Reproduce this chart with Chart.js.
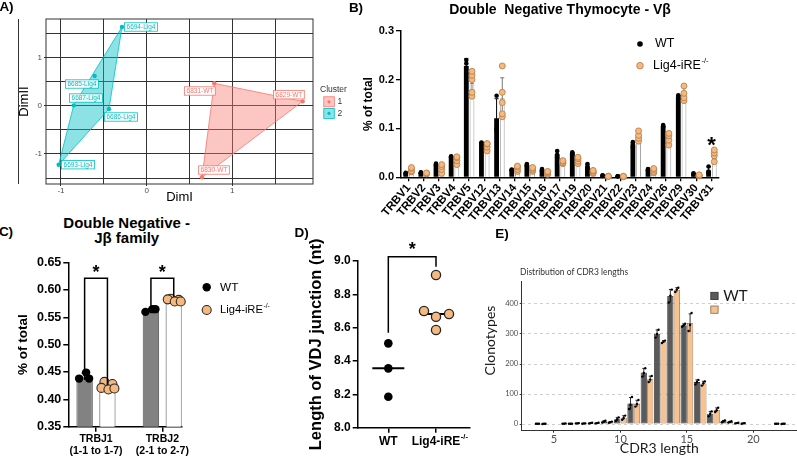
<!DOCTYPE html>
<html>
<head>
<meta charset="utf-8">
<title>TCR repertoire panels</title>
<script src="https://cdn.jsdelivr.net/npm/chart.js@4.4.1/dist/chart.umd.min.js"></script>
<style>
  body { margin: 0; background: #fff; }
  #fig { position: relative; width: 797px; height: 460px; overflow: hidden; font-family: "Liberation Sans", Arial, sans-serif; }
  #fig canvas { position: absolute; }
  .txt { position: absolute; white-space: pre; line-height: 1; transform: translate(-50%, -50%); color: #000; }
  .b { font-weight: bold; }
</style>
</head>
<body>
<div id="fig">
  <canvas id="chartA" width="350" height="205" style="left:0;top:0;width:350px;height:205px"></canvas>
  <canvas id="chartB" width="452" height="240" style="left:345px;top:0;width:452px;height:240px"></canvas>
  <canvas id="chartC" width="280" height="210" style="left:0;top:250px;width:280px;height:210px"></canvas>
  <canvas id="chartD" width="205" height="230" style="left:270px;top:230px;width:205px;height:230px"></canvas>
  <canvas id="chartE" width="357" height="220" style="left:440px;top:240px;width:357px;height:220px"></canvas>
  <div class="txt b" style="left:6.5px;top:6.7px;font-size:13.5px">A)</div>
  <div class="txt b" style="left:356px;top:8.3px;font-size:13.5px">B)</div>
  <div class="txt b" style="left:560px;top:9px;font-size:14px">Double  Negative Thymocyte - Vβ</div>
  <div class="txt b" style="left:6px;top:231.7px;font-size:13.5px">C)</div>
  <div class="txt b" style="left:126.7px;top:221.7px;font-size:15px">Double Negative -</div>
  <div class="txt b" style="left:126.7px;top:237.3px;font-size:15px">Jβ family</div>
  <div class="txt b" style="left:301.7px;top:233.3px;font-size:13.5px">D)</div>
  <div class="txt b" style="left:502px;top:234px;font-size:13.5px">E)</div>
  <div class="txt" style="left:520px;top:272px;font-size:8.5px;transform:translate(0,-50%);font-family:Lato,sans-serif;color:#333">Distribution of CDR3 lengths</div>
</div>
<script>
// ---- A) cluster plot
const aSamples = ['6694-Lig4', '6685-Lig4', '6687-Lig4', '6686-Lig4', '6693-Lig4', '6831-WT', '6829-WT', '6830-WT'];
const aDim1 = [-0.288, -0.607, -0.852, -0.440, -1.027, 0.789, 1.821, 0.646];
const aDim2 = [1.633, 0.616, 0.008, -0.068, -1.224, 0.465, 0.091, -1.485];
const aCluster = [2, 2, 2, 2, 2, 1, 1, 1];
const aClusters = [1, 2];
const aBreaks = [-1.5, -1, -0.5, 0, 0.5, 1, 1.5];

// ---- B) DN thymocyte V beta usage, replicates per gene
const bGenes = ['TRBV1', 'TRBV2', 'TRBV3', 'TRBV4', 'TRBV5', 'TRBV12', 'TRBV13', 'TRBV14', 'TRBV15', 'TRBV16', 'TRBV17',
  'TRBV19', 'TRBV20', 'TRBV21', 'TRBV22', 'TRBV23', 'TRBV24', 'TRBV26', 'TRBV29', 'TRBV30', 'TRBV31'];
const bWT = [
  [0.007, 0.008, 0.009], [0.008, 0.009, 0.010], [0.024, 0.026, 0.028], [0.041, 0.042, 0.043],
  [0.210, 0.233, 0.240], [0.068, 0.070, 0.071], [0.095, 0.100, 0.167], [0.014, 0.015, 0.016],
  [0.023, 0.025, 0.027], [0.013, 0.015, 0.017], [0.040, 0.046, 0.054], [0.047, 0.049, 0.051],
  [0.017, 0.022, 0.027], [0.003, 0.003, 0.004], [0.002, 0.002, 0.002], [0.062, 0.068, 0.072],
  [0.014, 0.016, 0.017], [0.103, 0.105, 0.107], [0.162, 0.165, 0.168], [0.006, 0.007, 0.008],
  [0.008, 0.012, 0.022]
];
const bLig = [
  [0.011, 0.013, 0.018, 0.020], [0.007, 0.008, 0.009], [0.008, 0.016, 0.022, 0.026], [0.026, 0.034, 0.040, 0.042],
  [0.166, 0.174, 0.200, 0.209, 0.217], [0.054, 0.062, 0.068, 0.069], [0.124, 0.130, 0.153, 0.174, 0.228],
  [0.012, 0.016, 0.021, 0.023], [0.012, 0.015, 0.018, 0.020], [0.006, 0.009, 0.011, 0.012],
  [0.028, 0.030, 0.033, 0.034], [0.028, 0.033, 0.038, 0.041], [0.008, 0.010, 0.013, 0.014],
  [0.002, 0.002, 0.002], [0.001, 0.002, 0.002], [0.074, 0.080, 0.086, 0.095], [0.009, 0.012, 0.016, 0.018],
  [0.066, 0.076, 0.085, 0.090], [0.157, 0.163, 0.172, 0.187], [0.003, 0.004, 0.005], [0.032, 0.044, 0.050, 0.056]
];
const bTicks = [0, 0.1, 0.2, 0.3];

// ---- C) J beta family
const cFamilies = [['TRBJ1', '(1-1 to 1-7)'], ['TRBJ2', '(2-1 to 2-7)']];
const cWT = [[0.438, 0.449, 0.438], [0.560, 0.565, 0.565]];
const cLig = [[0.432, 0.428, 0.421, 0.418, 0.420], [0.584, 0.582, 0.583, 0.579, 0.579]];
const cTicks = [0.35, 0.40, 0.45, 0.50, 0.55, 0.60, 0.65];

// ---- D) VDJ junction length
const dGroups = ['WT', 'Lig4-iRE'];
const dWT = [8.506, 8.356, 8.186];
const dLig = [8.916, 8.700, 8.666, 8.682, 8.586];
const dTicks = [8.0, 8.2, 8.4, 8.6, 8.8, 9.0];

// ---- E) CDR3 length distribution, replicates per length
const eLengths = [4, 6, 7, 8, 9, 10, 11, 12, 13, 14, 15, 16, 17, 18, 19, 22];
const eWT = [[1, 1, 1], [1, 1, 2], [2, 2, 3], [2, 3, 4], [5, 8, 11], [10, 16, 22], [50, 64, 90], [158, 170, 186],
  [288, 300, 314], [405, 428, 448], [324, 329, 334], [132, 140, 147], [26, 34, 42], [6, 9, 12], [2, 3, 4], [1, 1, 1]];
const eLig = [[0, 1, 1], [1, 1, 1], [1, 2, 2], [2, 3, 4], [4, 6, 8], [14, 20, 28], [58, 66, 80], [140, 148, 160],
  [270, 274, 278], [440, 448, 454], [310, 330, 370], [128, 136, 142], [40, 46, 54], [5, 7, 9], [1, 2, 3], [0, 1, 1]];
const eTicksX = [5, 10, 15, 20];
const eTicksY = [0, 100, 200, 300, 400];

const ARIAL = '"Liberation Sans", Arial, sans-serif';
const LATO = 'Lato, "Open Sans", sans-serif';
const ORANGE = '#f5b87e';

Chart.defaults.animation = false;
Chart.defaults.events = [];
Chart.defaults.font.family = ARIAL;
Chart.defaults.color = '#000';
Chart.defaults.plugins.legend.display = false;
Chart.defaults.plugins.tooltip.enabled = false;

const mean = a => a.reduce((s, v) => s + v, 0) / a.length;
const sd = a => {
  const m = mean(a);
  return a.length > 1 ? Math.sqrt(a.reduce((s, v) => s + (v - m) * (v - m), 0) / (a.length - 1)) : 0;
};
const median = a => { const s = a.slice().sort((p, q) => p - q); return s[Math.floor(s.length / 2)]; };

// fixed axis box so the plot area lands where it should
function fixAxis(px) {
  return s => {
    if (s.isHorizontal()) s.height = px; else s.width = px;
    s.paddingLeft = 0; s.paddingRight = 0; s.paddingTop = 0; s.paddingBottom = 0;
  };
}
function setTicks(vals) {
  return s => { s.ticks = vals.map(v => ({ value: v })); };
}

function dot(ctx, x, y, r, fill, edge, lw) {
  ctx.beginPath();
  ctx.arc(x, y, r, 0, Math.PI * 2);
  ctx.fillStyle = fill;
  ctx.fill();
  if (edge) { ctx.lineWidth = lw || 1; ctx.strokeStyle = edge; ctx.stroke(); }
}
function supText(ctx, x, y, base, sup, size, family) {
  ctx.font = size + 'px ' + (family || ARIAL);
  ctx.textAlign = 'left';
  ctx.textBaseline = 'middle';
  ctx.fillText(base, x, y);
  if (sup) {
    const w = ctx.measureText(base).width;
    ctx.font = (size * 0.6) + 'px ' + (family || ARIAL);
    ctx.fillText(sup, x + w + 0.5, y - size * 0.38);
  }
}
function star(ctx, x, y, size) {
  ctx.font = 'bold ' + size + 'px ' + ARIAL;
  ctx.textAlign = 'center';
  ctx.textBaseline = 'alphabetic';
  ctx.fillStyle = '#000';
  ctx.fillText('*', x, y + size * 0.56);
}

// replicate dots + mean±SD on each bar
function repsPlugin(sets) {
  return {
    id: 'reps',
    afterDatasetsDraw(chart) {
      const ctx = chart.ctx, y = chart.scales.y;
      ctx.save();
      sets.forEach(s => {
        chart.getDatasetMeta(s.ds).data.forEach((bar, i) => {
          const vals = s.reps[i];
          if (!vals || !vals.length) return;
          const m = mean(vals), d = sd(vals);
          if (d > 0) {
            const yt = y.getPixelForValue(m + d), yb = y.getPixelForValue(m - d);
            ctx.strokeStyle = s.err; ctx.lineWidth = s.errW;
            ctx.beginPath();
            ctx.moveTo(bar.x, yt); ctx.lineTo(bar.x, yb);
            ctx.moveTo(bar.x - s.cap, yt); ctx.lineTo(bar.x + s.cap, yt);
            ctx.stroke();
          }
          vals.forEach((v, k) => {
            dot(ctx, bar.x + s.jit[k % s.jit.length], y.getPixelForValue(v), s.r, s.fill, s.edge, s.lw);
          });
        });
      });
      ctx.restore();
    }
  };
}

function keyPlugin(items) {
  return {
    id: 'keys',
    afterDraw(chart) {
      const ctx = chart.ctx;
      ctx.save();
      items.forEach(it => {
        dot(ctx, it.x, it.y, it.r, it.fill, it.edge, it.lw);
        ctx.fillStyle = '#000';
        supText(ctx, it.tx, it.y, it.text, it.sup, it.size);
      });
      ctx.restore();
    }
  };
}

function bracketPlugin(list, xOf) {
  return {
    id: 'brackets',
    afterDatasetsDraw(chart) {
      const ctx = chart.ctx, y = chart.scales.y;
      ctx.save();
      ctx.strokeStyle = '#000';
      ctx.lineWidth = 1.5;
      list.forEach(b => {
        const [x0, x1] = xOf(chart, b);
        const yt = y.getPixelForValue(b.top);
        ctx.beginPath();
        ctx.moveTo(x0, y.getPixelForValue(b.left));
        ctx.lineTo(x0, yt);
        ctx.lineTo(x1, yt);
        ctx.lineTo(x1, y.getPixelForValue(b.right));
        ctx.stroke();
        star(ctx, (x0 + x1) / 2, y.getPixelForValue(b.star), b.size);
      });
      ctx.restore();
    }
  };
}

// ================= A =================
const aColors = { 1: '#F8766D', 2: '#00BFC4' };
const aFills = { 1: 'rgba(248,118,109,0.42)', 2: 'rgba(0,191,196,0.45)' };
const aLabelOffsets = [[19, 0], [-12.7, 8], [12.3, -7.3], [12, 8], [19.3, 0], [-14.3, 7.7], [-13.7, -6.6], [12, -7.3]];

function convexHull(pts) {
  const p = pts.slice().sort((a, b) => a[0] - b[0] || a[1] - b[1]);
  const cross = (o, a, b) => (a[0] - o[0]) * (b[1] - o[1]) - (a[1] - o[1]) * (b[0] - o[0]);
  const lower = [], upper = [];
  p.forEach(q => {
    while (lower.length >= 2 && cross(lower[lower.length - 2], lower[lower.length - 1], q) <= 0) lower.pop();
    lower.push(q);
  });
  p.slice().reverse().forEach(q => {
    while (upper.length >= 2 && cross(upper[upper.length - 2], upper[upper.length - 1], q) <= 0) upper.pop();
    upper.push(q);
  });
  return lower.slice(0, -1).concat(upper.slice(0, -1));
}

const aHulls = {
  id: 'hulls',
  beforeDatasetsDraw(chart) {
    const { ctx, scales: { x, y } } = chart;
    ctx.save();
    aClusters.forEach(c => {
      const pts = [];
      aCluster.forEach((k, i) => { if (k === c) pts.push([x.getPixelForValue(aDim1[i]), y.getPixelForValue(aDim2[i])]); });
      const h = convexHull(pts);
      ctx.beginPath();
      h.forEach((p, i) => (i ? ctx.lineTo(p[0], p[1]) : ctx.moveTo(p[0], p[1])));
      ctx.closePath();
      ctx.fillStyle = aFills[c];
      ctx.fill();
      ctx.strokeStyle = aColors[c];
      ctx.lineWidth = 0.8;
      ctx.stroke();
    });
    ctx.restore();
  },
  afterDatasetsDraw(chart) {
    const { ctx, chartArea: ca, scales: { x, y } } = chart;
    ctx.save();
    ctx.strokeStyle = '#333';
    ctx.lineWidth = 1;
    ctx.strokeRect(ca.left, ca.top, ca.right - ca.left, ca.bottom - ca.top);
    ctx.font = '6.5px ' + ARIAL;
    ctx.textAlign = 'center';
    ctx.textBaseline = 'middle';
    aSamples.forEach((s, i) => {
      const cx = x.getPixelForValue(aDim1[i]) + aLabelOffsets[i][0];
      const cy = y.getPixelForValue(aDim2[i]) + aLabelOffsets[i][1];
      const w = ctx.measureText(s).width + 4, h = 8.4;
      ctx.fillStyle = 'rgba(255,255,255,0.85)';
      ctx.fillRect(cx - w / 2, cy - h / 2, w, h);
      ctx.strokeStyle = aColors[aCluster[i]];
      ctx.lineWidth = 0.8;
      ctx.strokeRect(cx - w / 2, cy - h / 2, w, h);
      ctx.fillStyle = aColors[aCluster[i]];
      ctx.fillText(s, cx, cy + 0.3);
    });
    ctx.restore();
  },
  afterDraw(chart) {
    const ctx = chart.ctx;
    ctx.save();
    ctx.fillStyle = '#333';
    ctx.font = '8.5px ' + ARIAL;
    ctx.textAlign = 'left';
    ctx.textBaseline = 'middle';
    ctx.fillText('Cluster', 320, 90);
    aClusters.forEach((c, k) => {
      const y0 = 96.8 + k * 11.6;
      ctx.fillStyle = aFills[c];
      ctx.fillRect(323.8, y0, 10.5, 10);
      ctx.strokeStyle = aColors[c];
      ctx.lineWidth = 0.8;
      ctx.strokeRect(323.8, y0, 10.5, 10);
      dot(ctx, 329, y0 + 5, 1.6, aColors[c]);
      ctx.fillStyle = '#333';
      ctx.font = '8.5px ' + ARIAL;
      ctx.fillText(String(c), 337.5, y0 + 5.3);
    });
    ctx.restore();
  }
};

new Chart(document.getElementById('chartA'), {
  type: 'scatter',
  data: {
    datasets: aClusters.map(c => ({
      label: 'Cluster ' + c,
      data: aSamples.map((s, i) => ({ x: aDim1[i], y: aDim2[i], c: aCluster[i] })).filter(p => p.c === c),
      pointRadius: 2.2,
      pointBackgroundColor: aColors[c],
      pointBorderWidth: 0
    }))
  },
  options: {
    responsive: false,
    layout: { autoPadding: false, padding: { left: 17, top: 19, right: 37, bottom: 0 } },
    scales: {
      x: {
        type: 'linear', min: -1.175, max: 1.942,
        afterBuildTicks: setTicks(aBreaks), afterFit: fixAxis(21),
        grid: { color: '#333', lineWidth: 1, tickLength: 2,
          tickColor: c => Number.isInteger(c.tick.value) ? '#333' : 'rgba(0,0,0,0)' },
        border: { display: false },
        ticks: { padding: 0, font: { size: 8 }, color: '#4d4d4d', callback: v => Number.isInteger(v) ? String(v) : '' },
        title: { display: true, text: 'DimI', padding: 0, font: { size: 13 }, color: '#000' }
      },
      y: {
        min: -1.624, max: 1.799,
        afterBuildTicks: setTicks(aBreaks), afterFit: fixAxis(29),
        grid: { color: '#333', lineWidth: 1, tickLength: 2,
          tickColor: c => Number.isInteger(c.tick.value) ? '#333' : 'rgba(0,0,0,0)' },
        border: { display: false },
        ticks: { padding: 2, font: { size: 8 }, color: '#4d4d4d', callback: v => Number.isInteger(v) ? String(v) : '' },
        title: { display: true, text: 'DimII', padding: 0, font: { size: 13 }, color: '#000' }
      }
    }
  },
  plugins: [aHulls]
});

// ================= B =================
new Chart(document.getElementById('chartB'), {
  type: 'bar',
  data: {
    labels: bGenes,
    datasets: [
      { label: 'WT', data: bWT.map(mean), backgroundColor: '#000', borderWidth: 0,
        categoryPercentage: 0.75, barPercentage: 0.85 },
      { label: 'Lig4-iRE-/-', data: bLig.map(mean), backgroundColor: '#fff', borderColor: '#a0a0a0', borderWidth: 1,
        categoryPercentage: 0.75, barPercentage: 0.85 }
    ]
  },
  options: {
    responsive: false,
    layout: { autoPadding: false, padding: { left: 16, top: 30.8, right: 78, bottom: 0 } },
    scales: {
      x: {
        afterFit: fixAxis(62.7),
        grid: { offset: false, drawOnChartArea: false, color: '#000', lineWidth: 1.3, tickLength: 4 },
        border: { color: '#000', width: 1.5 },
        ticks: { autoSkip: false, minRotation: 50, maxRotation: 50, padding: 0, font: { size: 11.5, weight: 'bold' } }
      },
      y: {
        min: 0, max: 0.3,
        afterBuildTicks: setTicks(bTicks), afterFit: fixAxis(40),
        grid: { drawOnChartArea: false, color: '#000', lineWidth: 1.3, tickLength: 5 },
        border: { color: '#000', width: 1.5 },
        ticks: { padding: 2, font: { size: 11, weight: 'bold' }, callback: v => v.toFixed(1) },
        title: { display: true, text: '% of total', padding: 0, font: { size: 12, weight: 'bold' } }
      }
    }
  },
  plugins: [
    repsPlugin([
      { ds: 0, reps: bWT, r: 2.3, fill: '#000', jit: [0], err: '#000', errW: 1, cap: 2 },
      { ds: 1, reps: bLig, r: 3, fill: ORANGE, edge: '#b98250', lw: 0.9, jit: [0], err: '#555', errW: 0.8, cap: 2 }
    ]),
    {
      id: 'sigB',
      afterDatasetsDraw(chart) {
        star(chart.ctx, chart.scales.x.getPixelForValue(bGenes.indexOf('TRBV31')), chart.scales.y.getPixelForValue(0.0765), 22);
      }
    },
    keyPlugin([
      { x: 295, y: 44, r: 2.8, fill: '#000', tx: 310, text: 'WT', size: 12.5 },
      { x: 295, y: 65.7, r: 3.3, fill: ORANGE, edge: '#b98250', lw: 0.9, tx: 308, text: 'Lig4-iRE', sup: '-/-', size: 12.5 }
    ])
  ]
});

// ================= C =================
new Chart(document.getElementById('chartC'), {
  type: 'bar',
  data: {
    datasets: [
      { label: 'WT', data: cWT.map((r, i) => ({ x: i, y: mean(r) })), backgroundColor: '#828282', borderColor: '#555',
        borderWidth: 1, categoryPercentage: 0.688, barPercentage: 0.72 },
      { label: 'Lig4-iRE-/-', data: cLig.map((r, i) => ({ x: i, y: mean(r) })), backgroundColor: '#fff', borderColor: '#808080',
        borderWidth: 1.2, categoryPercentage: 0.688, barPercentage: 0.72 }
    ]
  },
  options: {
    responsive: false,
    layout: { autoPadding: false, padding: { left: 15.5, top: 12.7, right: 98.3, bottom: 0 } },
    scales: {
      x: {
        type: 'linear', offset: false, min: -0.418, max: 1.292,
        afterBuildTicks: setTicks([0, 1]), afterFit: fixAxis(33.3),
        grid: { offset: false, drawOnChartArea: false, color: '#000', lineWidth: 1.5, tickLength: 5 },
        border: { color: '#000', width: 1.5 },
        ticks: { padding: 1, font: { size: 10.5, weight: 'bold' }, callback: (v, i) => cFamilies[i] }
      },
      y: {
        min: 0.35, max: 0.65,
        afterBuildTicks: setTicks(cTicks), afterFit: fixAxis(52.8),
        grid: { drawOnChartArea: false, color: '#000', lineWidth: 1.5, tickLength: 5 },
        border: { color: '#000', width: 1.5 },
        ticks: { padding: 2, font: { size: 12.5, weight: 'bold' }, callback: v => v.toFixed(2) },
        title: { display: true, text: '% of total', padding: 0, font: { size: 13.5, weight: 'bold' } }
      }
    }
  },
  plugins: [
    repsPlugin([
      { ds: 0, reps: cWT, r: 4.2, fill: '#000', jit: [-5.5, 1.5, 4.5], err: '#000', errW: 1.2, cap: 3 },
      { ds: 1, reps: cLig, r: 4.5, fill: ORANGE, edge: '#2b2b2b', lw: 1.1, jit: [-3, 5, -6, 1, 7], err: '#000', errW: 1.2, cap: 3 }
    ]),
    bracketPlugin([
      { i: 0, top: 0.6215, left: 0.4446, right: 0.4263, star: 0.6398, size: 18 },
      { i: 1, top: 0.6215, left: 0.5695, right: 0.5878, star: 0.6398, size: 18 }
    ], (chart, b) => [chart.getDatasetMeta(0).data[b.i].x, chart.getDatasetMeta(1).data[b.i].x]),
    keyPlugin([
      { x: 206.7, y: 37.3, r: 4.2, fill: '#000', tx: 220, text: 'WT', size: 11.8 },
      { x: 206.7, y: 60, r: 4.5, fill: ORANGE, edge: '#2b2b2b', lw: 1.1, tx: 220, text: 'Lig4-iRE', sup: '-/-', size: 11.2 }
    ])
  ]
});

// ================= D =================
const dJitter = [[0, 0, 0], [0, -12, 0, 13, 0]];
new Chart(document.getElementById('chartD'), {
  type: 'scatter',
  data: {
    datasets: [
      { label: 'WT', data: dWT.map(v => ({ x: 0, y: v })), pointRadius: 4.3, pointBackgroundColor: '#000', pointBorderWidth: 0 },
      { label: 'Lig4-iRE-/-', data: dLig.map(v => ({ x: 1, y: v })), pointRadius: 4.6, pointBackgroundColor: ORANGE,
        pointBorderColor: '#262626', pointBorderWidth: 1.3 }
    ]
  },
  options: {
    responsive: false,
    clip: false,
    layout: { autoPadding: false, padding: { left: 36.5, top: 31, right: 5.7, bottom: 0 } },
    scales: {
      x: {
        type: 'linear', min: -0.642, max: 1.698,
        afterBuildTicks: setTicks([0, 1]), afterFit: fixAxis(32.3),
        grid: { drawOnChartArea: false, color: '#000', lineWidth: 1.5, tickLength: 5 },
        border: { color: '#000', width: 1.5 },
        ticks: { padding: 2, font: { size: 12, weight: 'bold' }, callback: (v, i) => dGroups[i] }
      },
      y: {
        min: 8, max: 9,
        afterBuildTicks: setTicks(dTicks), afterFit: fixAxis(51.2),
        grid: { drawOnChartArea: false, color: '#000', lineWidth: 1.5, tickLength: 5 },
        border: { color: '#000', width: 1.5 },
        ticks: { padding: 2, font: { size: 12, weight: 'bold' }, callback: v => v.toFixed(1) },
        title: { display: true, text: 'Length of VDJ junction (nt)', padding: 0, font: { size: 16.5, weight: 'bold' } }
      }
    }
  },
  plugins: [
    {
      id: 'beeswarm',
      afterDatasetsUpdate(chart) {
        dJitter.forEach((off, ds) => chart.getDatasetMeta(ds).data.forEach((pt, k) => { pt.x += off[k]; }));
      },
      beforeDatasetsDraw(chart) {
        const { ctx, scales: { x, y } } = chart;
        ctx.save();
        ctx.strokeStyle = '#000';
        ctx.lineWidth = 2;
        [dWT, dLig].forEach((vals, g) => {
          const px = x.getPixelForValue(g), py = y.getPixelForValue(median(vals));
          ctx.beginPath(); ctx.moveTo(px - 16, py); ctx.lineTo(px + 16, py); ctx.stroke();
        });
        ctx.restore();
      },
      afterDraw(chart) {
        const ctx = chart.ctx;
        ctx.save();
        ctx.font = 'bold 12px ' + ARIAL;
        const w = ctx.measureText(dGroups[1]).width;
        const x = chart.scales.x.getPixelForValue(1) + w / 2 + 0.5;
        const y = chart.chartArea.bottom + 7 + 7.2 - 4.6;
        ctx.font = 'bold 7.5px ' + ARIAL;
        ctx.fillStyle = '#000';
        ctx.textAlign = 'left';
        ctx.textBaseline = 'middle';
        ctx.fillText('-/-', x, y);
        ctx.restore();
      }
    },
    bracketPlugin([{ top: 9.026, left: 8.57, right: 8.966, star: 9.096, size: 18 }],
      chart => [chart.scales.x.getPixelForValue(0), chart.scales.x.getPixelForValue(1)])
  ]
});

// ================= E =================
new Chart(document.getElementById('chartE'), {
  type: 'bar',
  data: {
    datasets: [
      { label: 'WT', data: eLengths.map((l, i) => ({ x: l, y: mean(eWT[i]) })), backgroundColor: '#5a5a5a',
        borderColor: '#2e2e2e', borderWidth: 0.8, borderSkipped: false, categoryPercentage: 0.97, barPercentage: 0.97 },
      { label: 'Lig4-iRE-/-', data: eLengths.map((l, i) => ({ x: l, y: mean(eLig[i]) })), backgroundColor: '#f8c18d',
        borderColor: '#7d6a58', borderWidth: 0.8, borderSkipped: false, categoryPercentage: 0.97, barPercentage: 0.97 }
    ]
  },
  options: {
    responsive: false,
    layout: { autoPadding: false, padding: { left: 60, top: 41.7, right: 0, bottom: 3.3 } },
    scales: {
      x: {
        type: 'linear', offset: false, min: 2.569, max: 23.29,
        afterBuildTicks: setTicks(eTicksX), afterFit: fixAxis(26),
        grid: { offset: false, drawOnChartArea: false, color: '#333', tickLength: 2 },
        border: { color: '#333', width: 1 },
        ticks: { padding: 0, font: { family: LATO, size: 11 }, color: '#4d4d4d' },
        title: { display: true, text: 'CDR3 length', padding: 0, font: { family: LATO, size: 14 }, color: '#1a1a1a' }
      },
      y: {
        min: -22.3, max: 474.3,
        afterBuildTicks: setTicks(eTicksY), afterFit: fixAxis(21.7),
        grid: { color: '#cfcfcf', lineWidth: 1, tickColor: '#333', tickLength: 2 },
        border: { color: '#333', width: 1, dash: [3, 3] },
        ticks: { padding: 1.5, font: { family: LATO, size: 7.5 }, color: '#4d4d4d' }
      }
    }
  },
  plugins: [
    repsPlugin([
      { ds: 0, reps: eWT, r: 1.2, fill: '#000', jit: [-1.5, 0, 1.5], err: '#000', errW: 0.8, cap: 1.5 },
      { ds: 1, reps: eLig, r: 1.2, fill: '#000', jit: [-1.5, 0, 1.5], err: '#000', errW: 0.8, cap: 1.5 }
    ]),
    {
      id: 'eKeys',
      afterDraw(chart) {
        const ctx = chart.ctx;
        ctx.save();
        ctx.lineWidth = 0.8;
        ctx.fillStyle = '#5a5a5a'; ctx.fillRect(270.8, 52.3, 7.3, 7.3);
        ctx.strokeStyle = '#2e2e2e'; ctx.strokeRect(270.8, 52.3, 7.3, 7.3);
        ctx.fillStyle = '#f8c18d'; ctx.fillRect(270.8, 66, 7.3, 7.3);
        ctx.strokeStyle = '#7d6a58'; ctx.strokeRect(270.8, 66, 7.3, 7.3);
        ctx.fillStyle = '#1a1a1a';
        supText(ctx, 283.3, 56.2, 'WT', '', 15, LATO);
        ctx.translate(50, 100.5);
        ctx.rotate(-Math.PI / 2);
        ctx.font = '14px ' + LATO;
        ctx.textAlign = 'center';
        ctx.textBaseline = 'middle';
        ctx.fillText('Clonotypes', 0, 0);
        ctx.restore();
      }
    }
  ]
});
</script>
</body>
</html>
